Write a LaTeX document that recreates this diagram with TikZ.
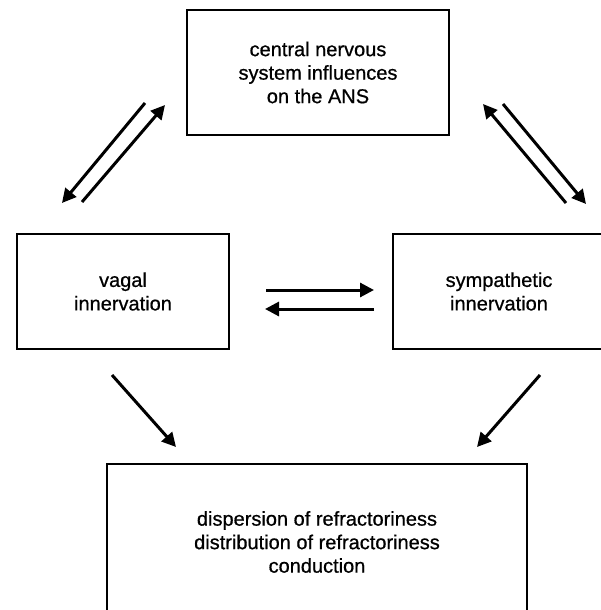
\documentclass[tikz,border=0pt]{standalone}
\usepackage{fontspec}
\setmainfont{Liberation Sans}
\newfontfamily\boxfont{Liberation Sans}[FakeBold=0.7]
\usetikzlibrary{arrows.meta}

\tikzset{
  box/.style={draw=black, line width=1.8pt, inner sep=0pt, align=center,
    font=\boxfont\fontsize{20}{23.5}\selectfont},
  arr/.style={line width=3pt, -{Triangle[length=14pt,width=14pt]}}
}

\begin{document}
\begin{tikzpicture}[x=1pt,y=-1pt]
   \useasboundingbox (0,0) rectangle (600,610);

   % boxes
   \node[box, minimum width=262pt, minimum height=125pt] (cns) at (318,72.5)
      {central nervous\\system influences\\on the ANS};
   \node[box, minimum width=212pt, minimum height=115pt] (vag) at (123,291.5)
      {vagal\\innervation};
   \node[box, minimum width=212pt, minimum height=115pt] (sym) at (499,291.5)
      {sympathetic\\innervation};
   \node[box, minimum width=420pt, minimum height=156pt] (ref) at (317,542)
      {dispersion of refractoriness\\distribution of refractoriness\\conduction};

   % arrow ends
   \coordinate (cv1) at (145,103);  \coordinate (cv2) at (62,203);
   \coordinate (vc1) at (82,202);   \coordinate (vc2) at (165,105);
   \coordinate (sc1) at (566,203);  \coordinate (sc2) at (483,104);
   \coordinate (cs1) at (503,104);  \coordinate (cs2) at (586,204);
   \coordinate (vs1) at (266,290);  \coordinate (vs2) at (374,290);
   \coordinate (sv1) at (374,309);  \coordinate (sv2) at (265,309);
   \coordinate (vr1) at (112,375);  \coordinate (vr2) at (176,447);
   \coordinate (sr1) at (540,375);  \coordinate (sr2) at (477,447);

   \draw[arr] (cv1) -- (cv2);
   \draw[arr] (vc1) -- (vc2);
   \draw[arr] (sc1) -- (sc2);
   \draw[arr] (cs1) -- (cs2);
   \draw[arr] (vs1) -- (vs2);
   \draw[arr] (sv1) -- (sv2);
   \draw[arr] (vr1) -- (vr2);
   \draw[arr] (sr1) -- (sr2);
\end{tikzpicture}
\end{document}
